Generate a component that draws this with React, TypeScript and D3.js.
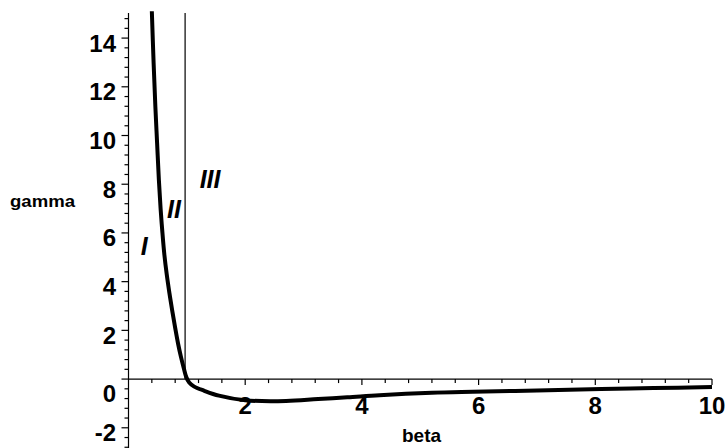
import React from "react";
import * as d3 from "d3";

// gamma(beta) curve samples
const betaValues = [0.40, 0.43, 0.46, 0.49, 0.52, 0.55, 0.58, 0.615, 0.655, 0.70, 0.75, 0.80, 0.85, 0.90, 0.95, 0.99, 1.04, 1.12, 1.30, 1.55, 2.0, 2.7, 3.25, 3.75, 4.3, 5.2, 5.9, 7.0, 8.1, 9.0, 10.0];
const gammaValues = [15.1, 13.0, 11.2, 9.7, 8.2, 7.0, 6.05, 5.1, 4.3, 3.55, 2.8, 2.1, 1.45, 0.9, 0.42, 0.08, -0.14, -0.3, -0.48, -0.68, -0.87, -0.9, -0.82, -0.75, -0.66, -0.56, -0.52, -0.47, -0.41, -0.37, -0.33];

const xMajorTicks = [2, 4, 6, 8, 10];
const yMajorTicks = [-2, 0, 2, 4, 6, 8, 10, 12, 14];
const boundaryBeta = 0.97;

const regionLabels = [
  { text: "I", beta: 0.21, gamma: 5.1 },
  { text: "II", beta: 0.66, gamma: 6.6 },
  { text: "III", beta: 1.22, gamma: 7.85 },
];

const W = 727;
const H = 448;

export default function App() {
  const x = d3.scaleLinear().domain([0, 10]).range([128.5, 712]);
  const y = d3.scaleLinear().domain([-2.83, 15.03]).range([448, 13]);

  const pts = betaValues.map((b, i) => [b, gammaValues[i]] as [number, number]);
  const line = d3
    .line<[number, number]>()
    .x((d) => x(d[0]))
    .y((d) => y(d[1]))
    .curve(d3.curveCatmullRom.alpha(0.5));

  const xMinor = d3.range(0.4, 10.01, 0.4).map((v) => +v.toFixed(2));
  const yMinor = d3.range(-2.8, 15.0, 0.4).map((v) => +v.toFixed(2));

  const font = "'Liberation Sans', Arial, sans-serif";

  return (
    <svg width={W} height={H} style={{ position: "absolute", left: 0, top: 0, background: "#fff" }}>
      <rect width={W} height={H} fill="#fff" />
      {/* axes */}
      <line x1={x(0)} x2={x(10)} y1={y(0)} y2={y(0)} stroke="#000" strokeWidth={1.2} />
      <line x1={x(0)} x2={x(0)} y1={y(15.03)} y2={H} stroke="#000" strokeWidth={1.2} />
      {/* x ticks */}
      {xMinor.map((v) => {
        const major = xMajorTicks.some((m) => Math.abs(m - v) < 1e-6);
        return (
          <line key={"xt" + v} x1={x(v)} x2={x(v)} y1={y(0)} y2={y(0) + (major ? 6 : 4)} stroke="#000" strokeWidth={1.2} />
        );
      })}
      {/* y ticks */}
      {yMinor.map((v) => {
        const major = yMajorTicks.some((m) => Math.abs(m - v) < 1e-6);
        return (
          <line key={"yt" + v} x1={x(0) - (major ? 7 : 4)} x2={x(0)} y1={y(v)} y2={y(v)} stroke="#000" strokeWidth={1.2} />
        );
      })}
      {/* x tick labels */}
      {xMajorTicks.map((v) => (
        <text key={"xl" + v} x={x(v)} y={y(0) + 35} textAnchor="middle" fontFamily={font} fontWeight="bold" fontSize={24} fill="#000">
          {v}
        </text>
      ))}
      {/* y tick labels */}
      {yMajorTicks.map((v) => (
        <text key={"yl" + v} x={116} y={y(v) + (v === 0 ? 23 : 13.5)} textAnchor="end" fontFamily={font} fontWeight="bold" fontSize={24} fill="#000">
          {v}
        </text>
      ))}
      {/* boundary at beta = 1 */}
      <line x1={x(boundaryBeta)} x2={x(boundaryBeta)} y1={y(15.03)} y2={y(0)} stroke="#000" strokeWidth={1.2} />
      {/* curve */}
      <path d={line(pts) ?? ""} fill="none" stroke="#000" strokeWidth={4} strokeLinejoin="round" />
      {/* region labels */}
      {regionLabels.map((r) => (
        <text key={r.text} x={x(r.beta)} y={y(r.gamma)} fontFamily={font} fontWeight="bold" fontStyle="italic" fontSize={25} fill="#000">
          {r.text}
        </text>
      ))}
      {/* axis titles */}
      <text x={10} y={207} fontFamily={font} fontWeight="bold" fontSize={16} textLength={65} lengthAdjust="spacingAndGlyphs" fill="#000">
        gamma
      </text>
      <text x={421.5} y={441.5} textAnchor="middle" fontFamily={font} fontWeight="bold" fontSize={19} fill="#000">
        beta
      </text>
    </svg>
  );
}
